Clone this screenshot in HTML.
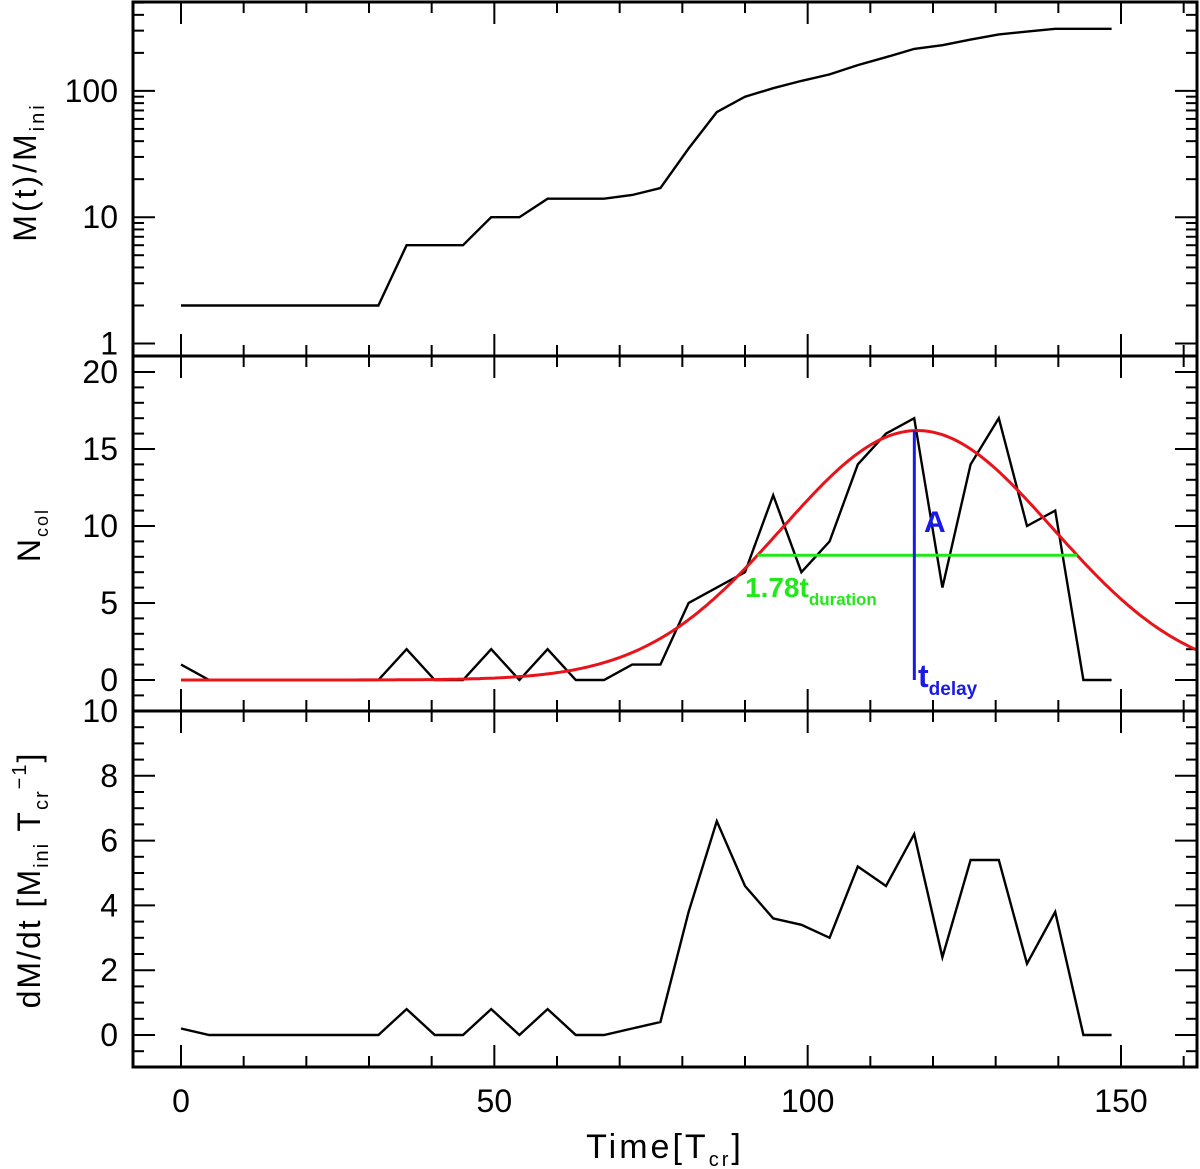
<!DOCTYPE html>
<html><head><meta charset="utf-8"><style>
body{margin:0;background:#fff;}
svg{display:block;}
text{font-family:"Liberation Sans",sans-serif;fill:#000;}
</style></head><body>
<svg id="chart" width="1200" height="1169" viewBox="0 0 1200 1169" xmlns="http://www.w3.org/2000/svg"></svg>
<script>
const times=[0,4.5,9,13.5,18,22.5,27,31.5,36,40.5,45,49.5,54,58.5,63,67.5,72,76.5,81,85.5,90,94.5,99,103.5,108,112.5,117,121.5,126,130.5,135,139.5,144,148.5];
const massVals=[2,2,2,2,2,2,2,2,6,6,6,10,10,14,14,14,15,17,35,68,90,105,120,135,160,185,215,230,255,280,295,310,310,310];
const ncolVals=[1,0,0,0,0,0,0,0,2,0,0,2,0,2,0,0,1,1,5,6,7,12,7,9,14,16,17,6,14,17,10,11,0,0];
const dmdtVals=[0.2,0,0,0,0,0,0,0,0.8,0,0,0.8,0,0.8,0,0,0.2,0.4,3.8,6.6,4.6,3.6,3.4,3.0,5.2,4.6,6.2,2.4,5.4,5.4,2.2,3.8,0,0];
const xTicks=[0,50,100,150];
const topTicks=[1,10,100];
const midTicks=[0,5,10,15,20];
const botTicks=[0,2,4,6,8,10];
const gaussAmp=16.2, gaussCenter=117.5, gaussSigma=21.66;

const svg=document.getElementById('chart');
const NS='http://www.w3.org/2000/svg';
const L=133,R=1197;
const X=t=>181+(t)*6.2667;
const Ytop=v=>343.5-Math.log10(v)*126.3;
const Ymid=v=>680-v*15.4;
const Ybot=v=>1035-v*32.4;
function el(tag,attrs,parent){const e=document.createElementNS(NS,tag);for(const k in attrs)e.setAttribute(k,attrs[k]);(parent||svg).appendChild(e);return e;}
function line(x1,y1,x2,y2,w,c){return el('line',{x1,y1,x2,y2,stroke:c||'#000','stroke-width':w||2});}
function txt(x,y,s,size,anchor,parent){const t=el('text',{x,y,'font-size':size,'text-anchor':anchor||'end'},parent);t.textContent=s;return t;}

const panels=[{top:2,bot:356,name:'mass'},{top:356,bot:711,name:'ncol'},{top:711,bot:1067,name:'dmdt'}];
panels.forEach(p=>{
  for(let t=-0;t<=160;t+=10){
    const major=xTicks.includes(t);const len=major?22:11;
    line(X(t),p.bot,X(t),p.bot-len,2);
    line(X(t),p.top,X(t),p.top+len,2);
  }
});
for(let d=0;d<3;d++){for(let m=1;m<=9;m++){const v=m*Math.pow(10,d);const y=Ytop(v);if(y<2||y>356)continue;const len=m===1?22:11;line(L,y,L+len,y,2);line(R,y,R-len,y,2);}}
topTicks.forEach(v=>{const t=txt(118,Ytop(v)+11,String(v),32);});
for(let v=-1;v<=20;v++){const y=Ymid(v);if(y<357||y>711)continue;const len=v%5===0?22:11;line(L,y,L+len,y,2);line(R,y,R-len,y,2);}
midTicks.forEach(v=>{const t=txt(118,Ymid(v)+11,String(v),32);});
for(let v=-1;v<=10;v+=0.5){const y=Ybot(v);if(y<711||y>1067)continue;const len=Math.abs(v%2)<1e-9?22:11;line(L,y,L+len,y,2);line(R,y,R-len,y,2);}
botTicks.forEach(v=>{const t=txt(118,Ybot(v)+11,String(v),32);});
xTicks.forEach(v=>{const t=txt(X(v),1112,String(v),32,'middle');});

function poly(vals,Y,color,w,name){
  const pts=times.map((t,i)=>X(t).toFixed(1)+','+Y(vals[i]).toFixed(1)).join(' ');
  const p=el('polyline',{points:pts,fill:'none',stroke:color,'stroke-width':w,'stroke-linejoin':'miter'});
  
  
}
poly(massVals,Ytop,'#000',2.4,'mass-line');
poly(ncolVals,Ymid,'#000',2.4,'ncol-line');
poly(dmdtVals,Ybot,'#000',2.4,'dmdt-line');
let gp=[];for(let t=0;t<=162;t+=0.5){gp.push(X(t).toFixed(1)+','+Ymid(gaussAmp*Math.exp(-Math.pow(t-gaussCenter,2)/(2*gaussSigma*gaussSigma))).toFixed(1));}
const g=el('polyline',{points:gp.join(' '),fill:'none',stroke:'#e8141a','stroke-width':3});


const hw=gaussSigma*Math.sqrt(2*Math.log(2));
const gl=line(X(gaussCenter-hw),Ymid(gaussAmp/2),X(gaussCenter+hw),Ymid(gaussAmp/2),3,'#22e81a');


const bl=line(X(gaussCenter)-3,Ymid(0),X(gaussCenter)-3,Ymid(gaussAmp),3,'#1a1ae8');


const a=el('text',{x:924,y:532,'font-size':30,'font-weight':'bold',fill:'#1a1ae8','text-anchor':'start'});a.textContent='A';a.style.fill='#1a1ae8';


const dl=el('text',{x:745,y:597,'font-size':28,'font-weight':'bold','text-anchor':'start'});dl.style.fill='#22e81a';
dl.innerHTML='1.78t<tspan font-size="17" dy="8">duration</tspan>';


const tl=el('text',{x:918,y:687,'font-size':32,'font-weight':'bold','text-anchor':'start'});tl.style.fill='#1a1ae8';
tl.innerHTML='t<tspan font-size="19" dy="8">delay</tspan>';


panels.forEach(p=>{const r=el('rect',{x:L,y:p.top,width:R-L,height:p.bot-p.top,fill:'none',stroke:'#000','stroke-width':3});});
const yt1=el('text',{transform:'translate(36,172) rotate(-90)','font-size':32,'text-anchor':'middle','letter-spacing':'3'});
yt1.innerHTML='M(t)/M<tspan font-size="20" dy="8">ini</tspan>';


const yt2=el('text',{transform:'translate(40,535) rotate(-90)','font-size':32,'text-anchor':'middle','letter-spacing':'2'});
yt2.innerHTML='N<tspan font-size="18" dy="8">col</tspan>';


const yt3=el('text',{transform:'translate(40,880) rotate(-90)','font-size':32,'text-anchor':'middle','letter-spacing':'2'});
yt3.innerHTML='dM/dt  [M<tspan font-size="20" dy="8">ini</tspan><tspan dy="-8">  T</tspan><tspan font-size="20" dy="8">cr</tspan><tspan font-size="20" dy="-22">−1</tspan><tspan dy="14">]</tspan>';


const xt=el('text',{x:665,y:1158,'font-size':34,'text-anchor':'middle','letter-spacing':'3'});
xt.innerHTML='Time[T<tspan font-size="20" dy="8">cr</tspan><tspan dy="-8">]</tspan>';


</script>
</body></html>
